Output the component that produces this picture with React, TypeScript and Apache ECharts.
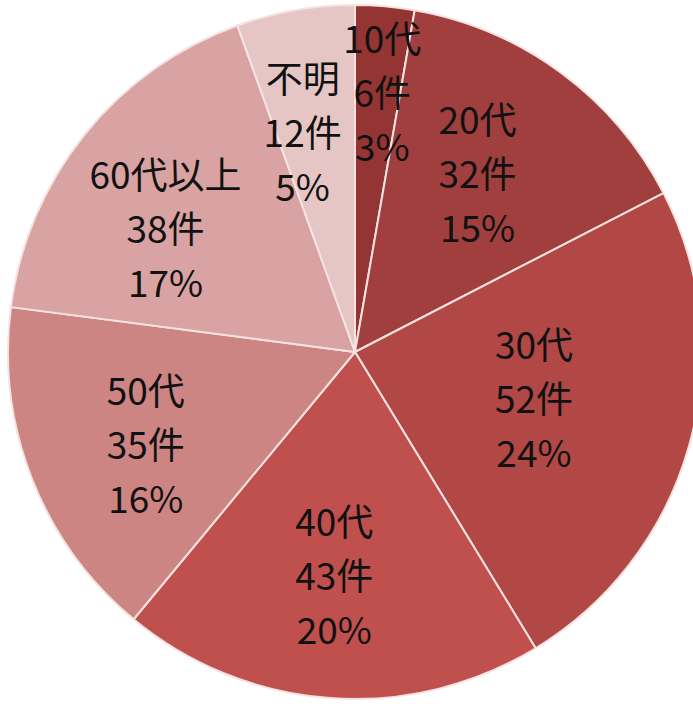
import React, { useEffect, useRef } from "react";
import * as echarts from "echarts";

const categories = ["10代", "20代", "30代", "40代", "50代", "60代以上", "不明"];
const counts = [6, 32, 52, 43, 35, 38, 12];
const percents = ["3%", "15%", "24%", "20%", "16%", "17%", "5%"];
const colors = ["#953533", "#a03f3d", "#b24845", "#c0504d", "#cd8583", "#d8a3a2", "#e6c6c5"];
const labelOffsets: [number, number][] = [
  [12, -85],
  [18, -38],
  [9, -3],
  [-8, 46],
  [-45, 26],
  [-52, -14],
  [-22, -47],
];

export default function App() {
  const ref = useRef<HTMLDivElement>(null);
  useEffect(() => {
    const chart = echarts.init(ref.current!, null, { renderer: "svg" });
    chart.setOption({
      animation: false,
      backgroundColor: "#ffffff",
      series: [
        {
          type: "pie",
          center: [355, 352],
          radius: [0, 347],
          startAngle: 90,
          clockwise: true,
          itemStyle: { borderColor: "#f5e3e2", borderWidth: 2 },
          label: {
            show: true,
            position: "inside",
            fontFamily: "Noto Sans CJK JP",
            fontSize: 37,
            lineHeight: 54,
            color: "#111111",
            align: "center",
          },
          labelLine: { show: false },
          emphasis: { disabled: true },
          data: categories.map((c, i) => ({
            name: c,
            value: counts[i],
            itemStyle: { color: colors[i] },
            label: {
              formatter: `${c}\n${counts[i]}件\n${percents[i]}`,
              offset: labelOffsets[i],
            },
          })),
        },
      ],
    });
    return () => chart.dispose();
  }, []);
  return (
    <div
      ref={ref}
      style={{ position: "fixed", left: 0, top: 0, width: 693, height: 704 }}
    />
  );
}
